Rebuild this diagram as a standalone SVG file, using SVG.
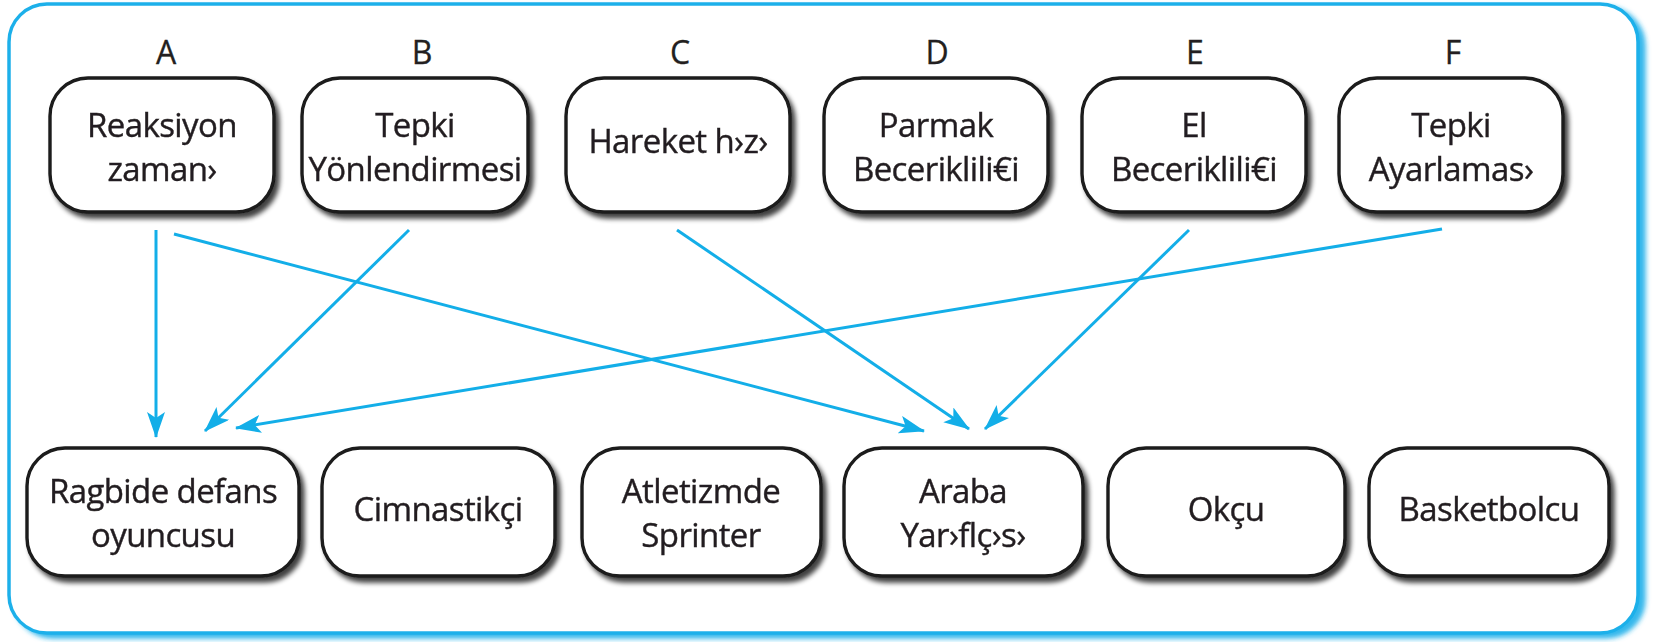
<svg xmlns="http://www.w3.org/2000/svg" width="1654" height="642" viewBox="0 0 1654 642">
  <style>
    .frame { fill: #ffffff; stroke: #1fb0ea; stroke-width: 3.5; }
    .box { fill: #ffffff; stroke: #1a1a1a; stroke-width: 3.4; }
    .letter { font-family: "Open Sans", "Noto Sans", sans-serif; font-size: 32px; fill: #231f20; stroke: #231f20; stroke-width: 0.3; text-anchor: middle; }
    .label { font-family: "Open Sans", "Noto Sans", sans-serif; font-size: 33px; fill: #231f20; stroke: #231f20; stroke-width: 0.4; text-anchor: middle; letter-spacing: -0.6px; }
    .link { stroke: #13aee8; stroke-width: 3; fill: none; marker-end: url(#arrow); }
  </style>
  <defs>
    <marker id="arrow" viewBox="0 0 26 18" refX="25" refY="9" markerWidth="26" markerHeight="18" markerUnits="userSpaceOnUse" orient="auto">
      <path d="M0,0 L26,9 L0,18 L6,9 Z" fill="#13aee8"/>
    </marker>
    <filter id="shadow" x="-10%" y="-10%" width="125%" height="130%">
      <feGaussianBlur in="SourceAlpha" stdDeviation="2.5"/>
      <feOffset dx="4" dy="5" result="off"/>
      <feComponentTransfer><feFuncA type="linear" slope="0.75"/></feComponentTransfer>
      <feMerge><feMergeNode/><feMergeNode in="SourceGraphic"/></feMerge>
    </filter>
    <filter id="frameShadow" x="-2%" y="-2%" width="104%" height="106%">
      <feGaussianBlur in="SourceAlpha" stdDeviation="2.5"/>
      <feOffset dx="6" dy="4" result="off"/>
      <feFlood flood-color="#1fb0ea" flood-opacity="0.9"/>
      <feComposite in2="off" operator="in"/>
      <feMerge><feMergeNode/><feMergeNode in="SourceGraphic"/></feMerge>
    </filter>
  </defs>

  <rect width="1654" height="642" fill="#ffffff"/>
  <rect class="frame" x="9" y="4" width="1629" height="629" rx="38" ry="38" filter="url(#frameShadow)"/>

  <!-- column letters -->
  <g id="letters">
    <text class="letter" x="166" y="64">A</text>
    <text class="letter" x="422" y="64">B</text>
    <text class="letter" x="680" y="64">C</text>
    <text class="letter" x="937" y="64">D</text>
    <text class="letter" x="1195" y="64">E</text>
    <text class="letter" x="1453" y="64">F</text>
  </g>

  <!-- abilities -->
  <g id="node-A" filter="url(#shadow)">
    <rect class="box" x="50" y="78" width="224" height="134" rx="38"/>
    <text class="label" x="162" y="137">Reaksiyon</text>
    <text class="label" x="162" y="181">zaman›</text>
  </g>
  <g id="node-B" filter="url(#shadow)">
    <rect class="box" x="302" y="78" width="226" height="134" rx="38"/>
    <text class="label" x="415" y="137">Tepki</text>
    <text class="label" x="415" y="181">Yönlendirmesi</text>
  </g>
  <g id="node-C" filter="url(#shadow)">
    <rect class="box" x="566" y="78" width="224" height="134" rx="38"/>
    <text class="label" x="678" y="153">Hareket h›z›</text>
  </g>
  <g id="node-D" filter="url(#shadow)">
    <rect class="box" x="824" y="78" width="224" height="134" rx="38"/>
    <text class="label" x="936" y="137">Parmak</text>
    <text class="label" x="936" y="181">Beceriklili&#8364;i</text>
  </g>
  <g id="node-E" filter="url(#shadow)">
    <rect class="box" x="1082" y="78" width="224" height="134" rx="38"/>
    <text class="label" x="1194" y="137">El</text>
    <text class="label" x="1194" y="181">Beceriklili&#8364;i</text>
  </g>
  <g id="node-F" filter="url(#shadow)">
    <rect class="box" x="1339" y="78" width="224" height="134" rx="38"/>
    <text class="label" x="1451" y="137">Tepki</text>
    <text class="label" x="1451" y="181">Ayarlamas›</text>
  </g>

  <!-- sports -->
  <g id="node-ragbi" filter="url(#shadow)">
    <rect class="box" x="27" y="448" width="272" height="128" rx="38"/>
    <text class="label" x="163" y="503">Ragbide defans</text>
    <text class="label" x="163" y="547">oyuncusu</text>
  </g>
  <g id="node-cimnastik" filter="url(#shadow)">
    <rect class="box" x="322" y="448" width="233" height="128" rx="38"/>
    <text class="label" x="438" y="521">Cimnastikçi</text>
  </g>
  <g id="node-atletizm" filter="url(#shadow)">
    <rect class="box" x="582" y="448" width="239" height="128" rx="38"/>
    <text class="label" x="701" y="503">Atletizmde</text>
    <text class="label" x="701" y="547">Sprinter</text>
  </g>
  <g id="node-araba" filter="url(#shadow)">
    <rect class="box" x="844" y="448" width="239" height="128" rx="38"/>
    <text class="label" x="963" y="503">Araba</text>
    <text class="label" x="963" y="547">Yar›flç›s›</text>
  </g>
  <g id="node-okcu" filter="url(#shadow)">
    <rect class="box" x="1108" y="448" width="237" height="128" rx="38"/>
    <text class="label" x="1226" y="521">Okçu</text>
  </g>
  <g id="node-basketbol" filter="url(#shadow)">
    <rect class="box" x="1369" y="448" width="240" height="128" rx="38"/>
    <text class="label" x="1489" y="521">Basketbolcu</text>
  </g>

  <!-- connectors -->
  <g id="connectors">
    <line class="link" x1="156" y1="230" x2="156" y2="437"/>
    <line class="link" x1="174" y1="234" x2="924" y2="431"/>
    <line class="link" x1="409" y1="230" x2="205" y2="431"/>
    <line class="link" x1="677" y1="230" x2="969" y2="429"/>
    <line class="link" x1="1189" y1="230" x2="985" y2="429"/>
    <line class="link" x1="1442" y1="229" x2="236" y2="428"/>
  </g>
</svg>
